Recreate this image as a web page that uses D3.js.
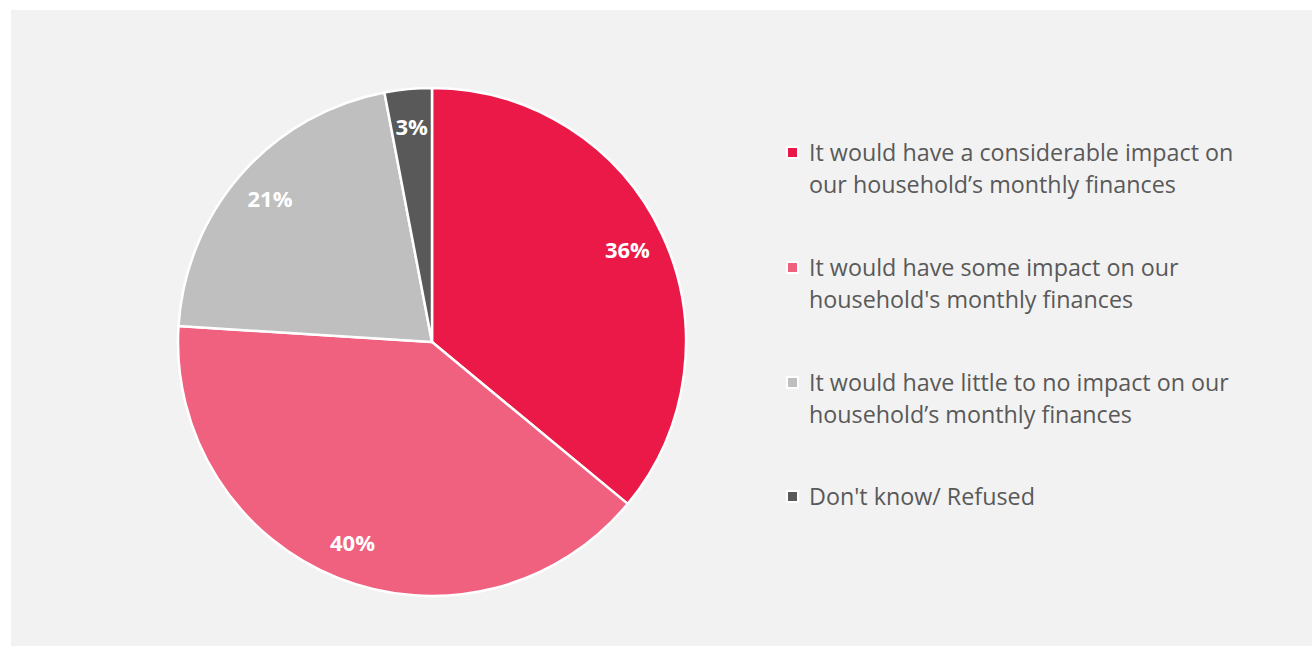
<!DOCTYPE html>
<html>
<head>
<meta charset="utf-8">
<script src="https://cdn.jsdelivr.net/npm/d3@7"></script>
<style>
  body { margin: 0; background: #ffffff; }
  svg { display: block; }
  text { font-family: "Open Sans", Lato, sans-serif; }
</style>
</head>
<body>
<div id="chart"></div>
<script>
// data
let categories = [
  ["It would have a considerable impact on", "our household\u2019s monthly finances"],
  ["It would have some impact on our", "household's monthly finances"],
  ["It would have little to no impact on our", "household\u2019s monthly finances"],
  ["Don't know/ Refused"]
]
let values = [36, 40, 21, 3]
let colors = ["#ea1947", "#f0617f", "#bfbfbf", "#595959"]

let width = 1312
let height = 646

let svg = d3.select("#chart")
  .append("svg")
  .attr("width", width)
  .attr("height", height)

svg.append("rect")
  .attr("x", 11)
  .attr("y", 10)
  .attr("width", width - 11)
  .attr("height", height - 10)
  .attr("fill", "#f2f2f2")

let cx = 432
let cy = 342
let radius = 254

let data = values.map(function(v, i){
  return {name: categories[i], value: v, color: colors[i]}
})

let pie = d3.pie().sort(null).value(function(d){ return d.value })
let arc = d3.arc().innerRadius(0).outerRadius(radius)
let labelArc = d3.arc().innerRadius(216).outerRadius(216)

let pieG = svg.append("g").attr("transform", `translate(${cx}, ${cy})`)

pieG.selectAll("path")
  .data(pie(data))
  .enter()
  .append("path")
  .attr("d", arc)
  .attr("fill", function(d){ return d.data.color })
  .attr("stroke", "#ffffff")
  .attr("stroke-width", 2.5)
  .attr("stroke-linejoin", "round")

pieG.selectAll("text.slice")
  .data(pie(data))
  .enter()
  .append("text")
  .attr("class", "slice")
  .attr("transform", function(d){ return `translate(${labelArc.centroid(d)})` })
  .attr("text-anchor", "middle")
  .attr("dy", "0.35em")
  .attr("fill", "#ffffff")
  .attr("font-weight", "bold")
  .attr("font-size", 22)
  .text(function(d){ return d.data.value + "%" })

// legend
let legendY = [153, 268, 383, 497]
let lineGap = 32

let legend = svg.append("g").attr("class", "legend")

let items = legend.selectAll("g")
  .data(data)
  .enter()
  .append("g")
  .attr("transform", function(d, i){ return `translate(787, ${legendY[i]})` })

items.append("rect")
  .attr("x", 0)
  .attr("y", -6)
  .attr("width", 11)
  .attr("height", 11)
  .attr("fill", function(d){ return d.color })
  .attr("stroke", "#ffffff")
  .attr("stroke-width", 2)

items.each(function(d){
  let t = d3.select(this).append("text")
    .attr("x", 22)
    .attr("y", 0)
    .attr("fill", "#595959")
    .attr("font-size", 23.3)
  d.name.forEach(function(line, j){
    t.append("tspan")
      .attr("x", 22)
      .attr("y", j * lineGap)
      .attr("dy", "0.35em")
      .text(line)
  })
})
</script>
</body>
</html>
